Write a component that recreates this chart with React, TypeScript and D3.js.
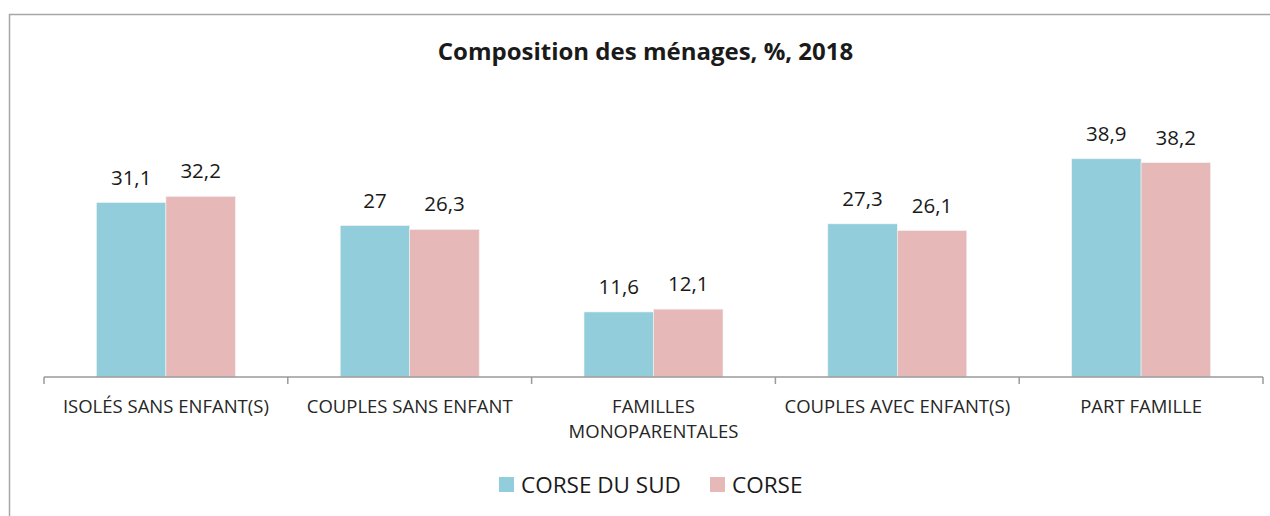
import React from "react";
import * as d3 from "d3";

const categories = [
  ["ISOLÉS SANS ENFANT(S)"],
  ["COUPLES SANS ENFANT"],
  ["FAMILLES", "MONOPARENTALES"],
  ["COUPLES AVEC ENFANT(S)"],
  ["PART FAMILLE"],
];
const seriesNames = ["CORSE DU SUD", "CORSE"];
const corseDuSud = [31.1, 27, 11.6, 27.3, 38.9];
const corse = [32.2, 26.3, 12.1, 26.1, 38.2];
const seriesValues = [corseDuSud, corse];
const colors = ["#92CDDC", "#E6B9B8"];
const title = "Composition des ménages, %, 2018";

const W = 1270;
const H = 516;
const FONT = "'Open Sans', sans-serif";

export default function App() {
  const keys = categories.map((c) => c.join(" "));
  const x0 = d3.scaleBand<string>().domain(keys).range([44, 1263]).paddingInner(0).paddingOuter(0);
  const bw = x0.bandwidth();
  const gap = bw * 0.215;
  const x1 = d3.scaleBand<string>().domain(seriesNames).range([gap, bw - gap]).padding(0);
  const y = d3.scaleLinear().domain([0, 45]).range([377, 377 - 45 * 5.61]);
  const fmt = (v: number) => String(v).replace(".", ",");
  const ticks = [...keys.map((k) => x0(k) as number), 1263];

  return (
    <svg width={W} height={H} style={{ position: "absolute", left: 0, top: 0, background: "#fff" }}>
      <rect x={0} y={0} width={W} height={H} fill="#fff" />
      <line x1={9} y1={14.5} x2={W} y2={14.5} stroke="#a6a6a6" strokeWidth={1.5} />
      <line x1={9.5} y1={14} x2={9.5} y2={H} stroke="#a6a6a6" strokeWidth={1.5} />
      <text x={645.5} y={60} textAnchor="middle" fontFamily={FONT} fontWeight={700} fontSize={24} fill="#1a1a1a">
        {title}
      </text>
      {keys.map((k, i) => (
        <g key={k} transform={`translate(${x0(k)},0)`}>
          {seriesNames.map((s, j) => {
            const v = seriesValues[j][i];
            const bx = x1(s) as number;
            return (
              <g key={s}>
                <rect x={bx} y={y(v)} width={x1.bandwidth()} height={y(0) - y(v)} fill={colors[j]} stroke="#f3f3f3" strokeWidth={0.6} />
                <text x={bx + x1.bandwidth() / 2} y={y(v) - 18} textAnchor="middle" fontFamily={FONT} fontSize={20.5} fill="#1a1a1a">
                  {fmt(v)}
                </text>
              </g>
            );
          })}
          {categories[i].map((line, li) => (
            <text key={li} x={bw / 2} y={412.5 + li * 25} textAnchor="middle" fontFamily={FONT} fontSize={18.5} fill="#262626">
              {line}
            </text>
          ))}
        </g>
      ))}
      <line x1={44} y1={377} x2={1263} y2={377} stroke="#9a9a9a" strokeWidth={1.5} />
      {ticks.map((t, i) => (
        <line key={i} x1={t} y1={377} x2={t} y2={384} stroke="#9a9a9a" strokeWidth={1.5} />
      ))}
      {seriesNames.map((s, j) => {
        const lx = [499, 710][j];
        return (
          <g key={s}>
            <rect x={lx} y={477} width={15} height={15} fill={colors[j]} />
            <text x={lx + 22} y={493} fontFamily={FONT} fontSize={22.5} fill="#1a1a1a">
              {s}
            </text>
          </g>
        );
      })}
    </svg>
  );
}
